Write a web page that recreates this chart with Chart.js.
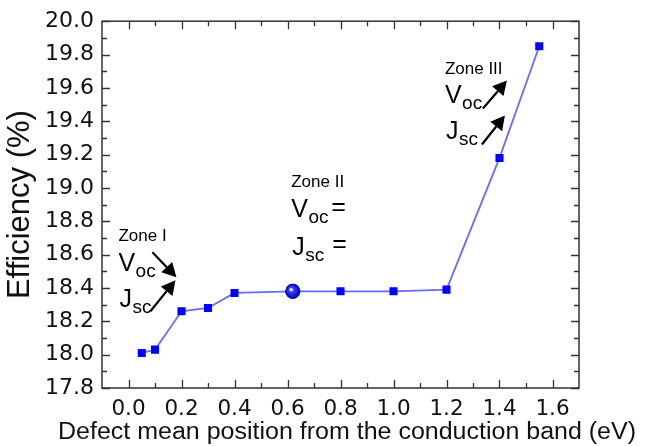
<!DOCTYPE html>
<html>
<head>
<meta charset="utf-8">
<script src="https://cdn.jsdelivr.net/npm/chart.js@4.4.0/dist/chart.umd.min.js"></script>
<style>
  html, body { margin: 0; padding: 0; background: #fff; }
  #wrap { width: 646px; height: 446px; }
</style>
</head>
<body>
<div id="wrap"><canvas id="grafico"></canvas></div>
<script>
// dados
const posicoes = [0.05, 0.10, 0.20, 0.30, 0.40, 0.62, 0.80, 1.00, 1.20, 1.40, 1.55];
const eficiencia = [18.01, 18.03, 18.26, 18.28, 18.37, 18.38, 18.38, 18.38, 18.39, 19.18, 19.85];
const ticksX = [0.0, 0.2, 0.4, 0.6, 0.8, 1.0, 1.2, 1.4, 1.6];
const ticksY = [17.8, 18.0, 18.2, 18.4, 18.6, 18.8, 19.0, 19.2, 19.4, 19.6, 19.8, 20.0];
const tituloX = 'Defect mean position from the conduction band (eV)';
const destaque = 5; // ponto em circulo

const FONTE = '"Liberation Sans", Arial, Helvetica, sans-serif';
const LARGA = '"DejaVu Sans", "Liberation Sans", sans-serif';
Chart.defaults.font.family = FONTE;

// moldura com ticks para dentro nos quatro lados
const moldura = {
  id: 'moldura',
  beforeDatasetsDraw(chart) {
    const { ctx, chartArea: a, scales: { x, y } } = chart;
    ctx.save();
    ctx.strokeStyle = '#333';
    ctx.lineWidth = 1.5;
    ctx.strokeRect(a.left, a.top, a.right - a.left, a.bottom - a.top);
    ctx.beginPath();
    const tx = (v, len) => {
      const p = Math.round(x.getPixelForValue(v)) + 0.5;
      ctx.moveTo(p, a.bottom); ctx.lineTo(p, a.bottom - len);
      ctx.moveTo(p, a.top); ctx.lineTo(p, a.top + len);
    };
    const ty = (v, len) => {
      const p = Math.round(y.getPixelForValue(v)) + 0.5;
      ctx.moveTo(a.left, p); ctx.lineTo(a.left + len, p);
      ctx.moveTo(a.right, p); ctx.lineTo(a.right - len, p);
    };
    ticksX.forEach(v => {
      tx(v, 8);
      if (v + 0.1 < x.max - 0.01) tx(v + 0.1, 5);
    });
    ticksY.forEach(v => {
      ty(v, 8);
      if (v + 0.1 < y.max - 0.01) ty(v + 0.1, 5);
    });
    ctx.lineWidth = 1.3;
    ctx.stroke();
    ctx.restore();
  }
};

function seta(ctx, x1, y1, x2, y2) {
  const ang = Math.atan2(y2 - y1, x2 - x1), L = 14, W = 7.5;
  const bx = x2 - L * Math.cos(ang), by = y2 - L * Math.sin(ang);
  ctx.beginPath();
  ctx.moveTo(x1, y1); ctx.lineTo(bx, by);
  ctx.lineWidth = 2.2;
  ctx.stroke();
  ctx.beginPath();
  ctx.moveTo(x2, y2);
  ctx.lineTo(bx + W * Math.sin(ang), by - W * Math.cos(ang));
  ctx.lineTo(bx - W * Math.sin(ang), by + W * Math.cos(ang));
  ctx.closePath();
  ctx.fill();
}

function sub(ctx, letra, indice, x, y) {
  ctx.font = '25px ' + FONTE;
  ctx.fillText(letra, x, y);
  const w = ctx.measureText(letra).width;
  ctx.font = '19px ' + FONTE;
  ctx.fillText(indice, x + w + 0.5, y + 6);
  return x + w + 0.5 + ctx.measureText(indice).width;
}

// textos das zonas e titulo do eixo x
const anotacoes = {
  id: 'anotacoes',
  afterDatasetsDraw(chart) {
    const { ctx, scales: { x, y } } = chart;
    ctx.save();
    ctx.fillStyle = '#000';
    ctx.strokeStyle = '#000';
    ctx.textBaseline = 'alphabetic';
    ctx.textAlign = 'left';

    // Zone I
    let ox = x.getPixelForValue(-0.038), oy = y.getPixelForValue(18.68);
    ctx.font = '17px ' + FONTE;
    ctx.fillText('Zone I', ox, oy);
    sub(ctx, 'V', 'oc', ox, oy + 30);
    sub(ctx, 'J', 'sc', ox + 1, oy + 66);
    seta(ctx, ox + 34, oy + 11, ox + 58, oy + 36);
    seta(ctx, ox + 32, oy + 70, ox + 57, oy + 39);

    // Zone II
    ox = x.getPixelForValue(0.614); oy = y.getPixelForValue(19.005);
    ctx.font = '17px ' + FONTE;
    ctx.fillText('Zone II', ox, oy);
    sub(ctx, 'V', 'oc', ox, oy + 30);
    sub(ctx, 'J', 'sc', ox + 1, oy + 68);
    ctx.font = '25px ' + FONTE;
    ctx.fillText('=', ox + 40, oy + 28);
    ctx.fillText('=', ox + 41, oy + 65);

    // Zone III
    ox = x.getPixelForValue(1.194); oy = y.getPixelForValue(19.686);
    ctx.font = '17px ' + FONTE;
    ctx.fillText('Zone III', ox, oy);
    sub(ctx, 'V', 'oc', ox, oy + 29);
    sub(ctx, 'J', 'sc', ox + 1, oy + 65);
    seta(ctx, ox + 38, oy + 35, ox + 62, oy + 7);
    seta(ctx, ox + 37, oy + 71, ox + 60, oy + 42);

    // brilho do ponto em circulo
    const p = chart.getDatasetMeta(0).data[destaque];
    const g = ctx.createRadialGradient(p.x - 2, p.y - 2, 0.5, p.x, p.y, 7.5);
    g.addColorStop(0, '#ffffff');
    g.addColorStop(0.3, '#3a3aff');
    g.addColorStop(1, '#0000b0');
    ctx.fillStyle = g;
    ctx.beginPath();
    ctx.arc(p.x, p.y, 7.5, 0, Math.PI * 2);
    ctx.fill();

    // titulo x, esticado na horizontal como no original
    ctx.fillStyle = '#111';
    ctx.font = '23px ' + FONTE;
    ctx.textAlign = 'center';
    const escala = 578 / ctx.measureText(tituloX).width;
    ctx.translate(347, 439);
    ctx.scale(escala, 1);
    ctx.fillText(tituloX, 0, 0);
    ctx.restore();
  }
};

new Chart(document.getElementById('grafico'), {
  type: 'line',
  data: {
    datasets: [{
      data: posicoes.map((p, i) => ({ x: p, y: eficiencia[i] })),
      borderColor: '#6a6aff',
      borderWidth: 1.8,
      backgroundColor: '#0000ff',
      pointBackgroundColor: '#0000ff',
      pointBorderWidth: 0,
      pointStyle: posicoes.map((p, i) => i === destaque ? 'circle' : 'rect'),
      pointRadius: posicoes.map((p, i) => i === destaque ? 7.5 : 5.7),
      tension: 0,
      fill: false
    }]
  },
  options: {
    responsive: true,
    maintainAspectRatio: false,
    animation: false,
    layout: { padding: { top: 21, right: 67, left: 0, bottom: 0 } },
    plugins: { legend: { display: false }, tooltip: { enabled: false } },
    scales: {
      x: {
        type: 'linear',
        min: -0.1,
        max: 1.7,
        afterBuildTicks: s => { s.ticks = ticksX.map(v => ({ value: v })); },
        afterFit: s => { s.height = 58; },
        grid: { display: false, drawTicks: false },
        border: { display: false },
        ticks: {
          autoSkip: false, maxRotation: 0, padding: 9, color: '#111',
          font: { size: 21.5, family: LARGA }, callback: v => v.toFixed(1)
        },
        title: { display: false }
      },
      y: {
        min: 17.8,
        max: 20.0,
        afterBuildTicks: s => { s.ticks = ticksY.map(v => ({ value: v })); },
        afterFit: s => { s.width = 102; },
        grid: { display: false, drawTicks: false },
        border: { display: false },
        ticks: {
          autoSkip: false, padding: 8, color: '#111',
          font: { size: 22, family: LARGA }, callback: v => v.toFixed(1)
        },
        title: {
          display: true, text: 'Efficiency (%)',
          color: '#111', font: { size: 31 }, padding: { top: 2, bottom: 0 }
        }
      }
    }
  },
  plugins: [moldura, anotacoes]
});
</script>
</body>
</html>
